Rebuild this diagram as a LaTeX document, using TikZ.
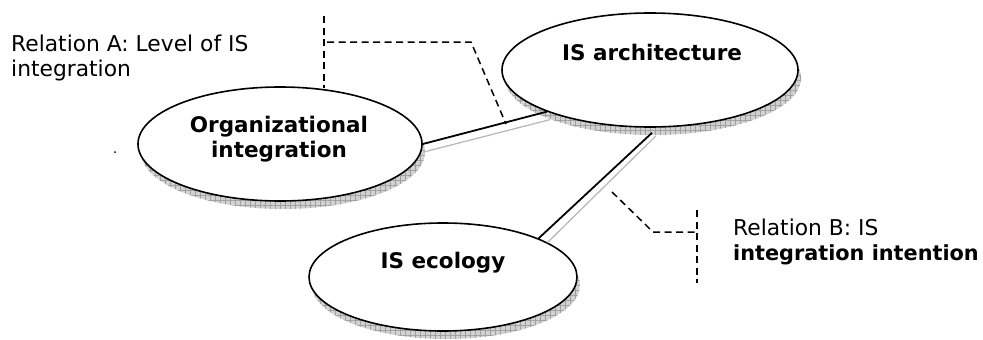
\documentclass[tikz,border=0pt]{standalone}
\usepackage{fontspec}
\setmainfont{DejaVu Sans}
\usetikzlibrary{shapes.geometric,patterns.meta}

\begin{document}
\begin{tikzpicture}[x=1pt,y=-1pt,
  bubble/.style={ellipse,draw=black,line width=1.6pt,fill=white,inner sep=0pt},
  bubshadow/.style={ellipse,draw=none,fill=gray!35,inner sep=0pt,
    postaction={pattern={Hatch[angle=0,distance=5pt,line width=0.5pt]},pattern color=gray!75}},
  lbl/.style={inner sep=0pt,anchor=base,font=\fontsize{21.5}{25}\selectfont\bfseries},
  note/.style={inner sep=0pt,anchor=base west,font=\fontsize{21.8}{25}\selectfont},
  link/.style={line width=1.8pt,black},
  linkshade/.style={line width=1.3pt,gray!55},
  guide/.style={line width=1.5pt,dash pattern=on 7pt off 4.5pt}]

\useasboundingbox (0,0) rectangle (983,340);

% shadows
\node[bubshadow,minimum width=296,minimum height=114] (archsh) at (653,78) {};
\node[bubshadow,minimum width=284,minimum height=114] (orgsh) at (283,152) {};
\node[bubshadow,minimum width=268,minimum height=108] (ecosh) at (446,285) {};

% ellipses
\node[bubble,minimum width=296,minimum height=114] (arch) at (650,70) {};
\node[bubble,minimum width=284,minimum height=114] (org) at (280,144) {};
\node[bubble,minimum width=268,minimum height=108] (eco) at (443,277) {};

% labels
\node[lbl] (t1) at (652,60) {IS architecture};
\node[lbl] (t2) at (279,132) {Organizational};
\node[lbl] (t3) at (279,157) {integration};
\node[lbl] (t4) at (443,268) {IS ecology};

% connectors
\draw[linkshade] ([shift={(1,8)}]org.east) -- ([shift={(3,8)}]arch.202);
\draw[link] (org.east) -- (arch.202);
\draw[linkshade] ([shift={(6,8)}]arch.south) -- ([shift={(9,4)}]eco.22);
\draw[link] ([shift={(2,5)}]arch.south) -- (eco.22);

% notes
\node[note] (ra1) at (11,51) {Relation A: Level of IS};
\node[note] (ra2) at (11,76) {integration};
\node[note] (rb1) at (733,235) {Relation B: IS};
\node[note,font=\fontsize{20.8}{25}\selectfont\bfseries] (rb2) at (733,260) {integration intention};

% guide lines
\coordinate (a1) at (324,16);
\coordinate (a2) at (324,88);
\coordinate (a3) at (327,42);
\coordinate (a4) at (471,42);
\coordinate (a5) at (506,124);
\draw[guide] (a1) -- (a2);
\draw[guide] (a3) -- (a4) -- (a5);

\coordinate (b1) at (612,192);
\coordinate (b2) at (653,232);
\coordinate (b3) at (697,232);
\coordinate (b4) at (697,210);
\coordinate (b5) at (697,283);
\draw[guide] (b1) -- (b2) -- (b3);
\draw[guide] (b4) -- (b5);

% stray dot
\fill (115,152) circle (1);
\end{tikzpicture}
\end{document}
